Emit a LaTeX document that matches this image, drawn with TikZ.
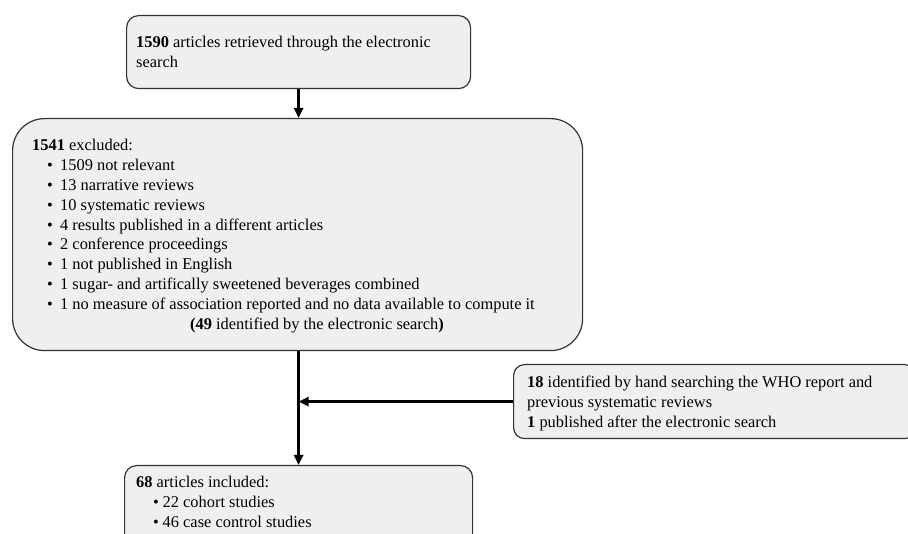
\documentclass[tikz,border=0pt]{standalone}
\usepackage{fontspec}
\setmainfont{Liberation Serif}
\usetikzlibrary{arrows.meta}
\definecolor{boxfill}{HTML}{EFEFEF}
\definecolor{boxline}{HTML}{333333}
\tikzset{
  box/.style={draw=boxline, fill=boxfill, line width=1.2pt, inner sep=0pt},
  txt/.style={anchor=base west, inner sep=0pt, font=\fontsize{16.4}{19.8}\selectfont},
  flow/.style={line width=2.6pt, -{Triangle[length=10pt,width=9pt]}},
  flowline/.style={line width=2.6pt}
}
\newcommand{\bul}{\hspace*{15pt}\makebox[13pt][l]{•}}
\newcommand{\bulb}{\hspace*{17pt}\makebox[9.5pt][l]{•}}
\begin{document}
\begin{tikzpicture}[x=1pt,y=-1pt]
\useasboundingbox (0,0) rectangle (908,534);
\clip (0,0) rectangle (908,534);
% boxes
\node[box, rounded corners=12pt, minimum width=344pt, minimum height=73pt, anchor=north west] (top) at (126,15) {};
\node[box, rounded corners=32pt, minimum width=570pt, minimum height=232pt, anchor=north west] (excl) at (12,118) {};
\node[box, rounded corners=11pt, minimum width=402pt, minimum height=74pt, anchor=north west] (hand) at (513,364) {};
\node[box, rounded corners=12pt, minimum width=348pt, minimum height=85pt, anchor=north west] (incl) at (124,465) {};
% texts
\node[txt] (toptxt) at (136,48) {\begin{tabular}[t]{@{}l@{}}\textbf{1590} articles retrieved through the electronic\\ search\end{tabular}};
\node[txt] (excltxt) at (32,151) {\begin{tabular}[t]{@{}l@{}}
\textbf{1541} excluded:\\
\bul 1509 not relevant\\
\bul 13 narrative reviews\\
\bul 10 systematic reviews\\
\bul 4 results published in a different articles\\
\bul 2 conference proceedings\\
\bul 1 not published in English\\
\bul 1 sugar- and artifically sweetened beverages combined\\
\bul 1 no measure of association reported and no data available to compute it\\
\hspace*{158pt}\textbf{(49} identified by the electronic search\textbf{)}
\end{tabular}};
\node[txt] (handtxt) at (527,388) {\begin{tabular}[t]{@{}l@{}}
\textbf{18} identified by hand searching the WHO report and\\
previous systematic reviews\\
\textbf{1} published after the electronic search
\end{tabular}};
\node[txt] (incltxt) at (136,488) {\begin{tabular}[t]{@{}l@{}}
\textbf{68} articles included:\\
\bulb 22 cohort studies\\
\bulb 46 case control studies
\end{tabular}};
% connectors
\coordinate (join) at (excl.south -| top.south);
\coordinate (merge) at (top.south |- hand.west);
\draw[flow] (top.south) -- (top.south |- excl.north);
\draw[flow] (join) -- (join |- incl.north);
\draw[flow] (hand.west) -- (merge);
\end{tikzpicture}
\end{document}
